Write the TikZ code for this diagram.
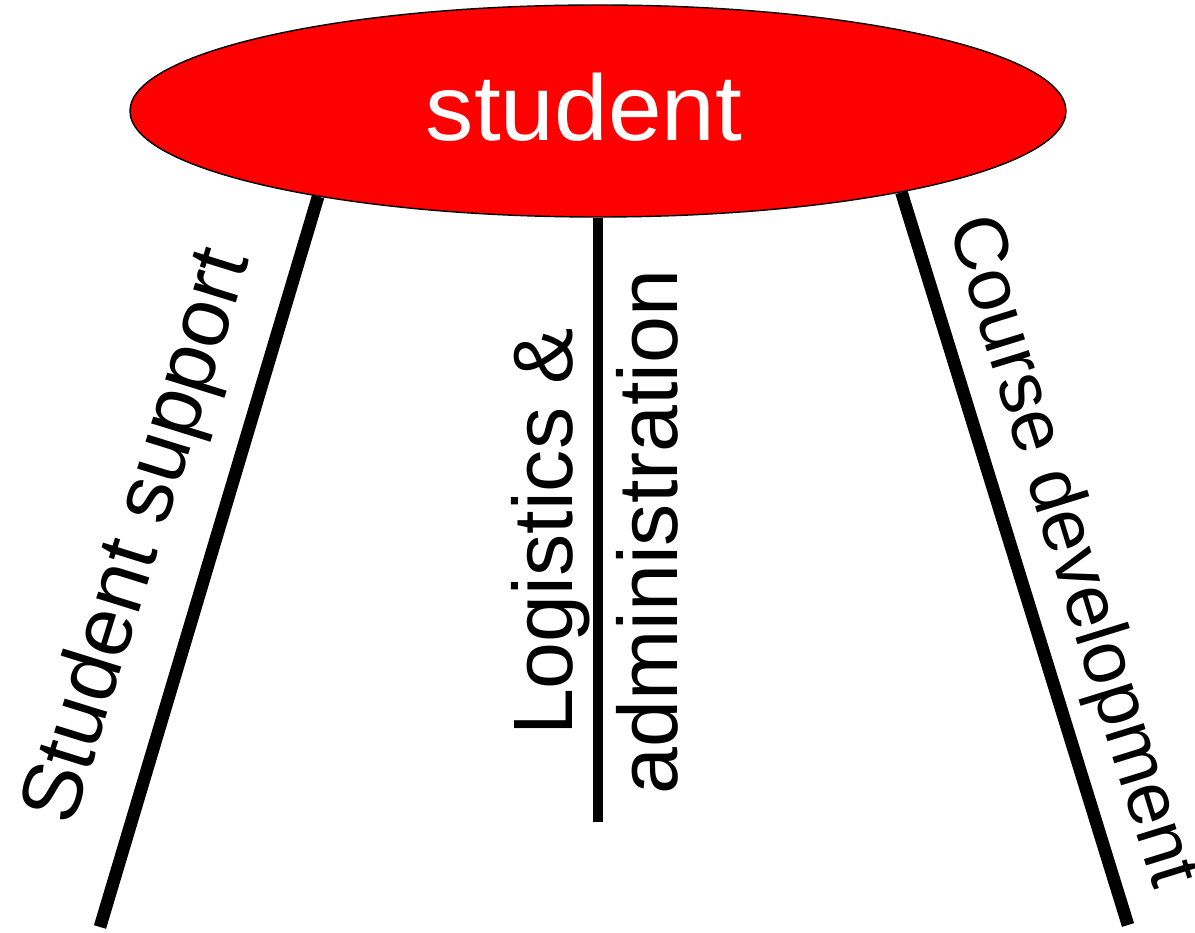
\documentclass[tikz,border=0pt]{standalone}
\usepackage{fontspec}
\setmainfont{Liberation Sans}
\usetikzlibrary{shapes.geometric}

\definecolor{vermelho}{RGB}{255,0,0}

\tikzset{
  perna/.style={line width=7.2pt},
  rotulo/.style={inner sep=0pt, font=\fontsize{48}{60}\selectfont}
}

\begin{document}
\begin{tikzpicture}
    \useasboundingbox (0,0) rectangle (23.9,18.64);

    % Elipse do aluno
    \node[ellipse, draw, line width=0.8pt, fill=vermelho,
          minimum width=18.72cm, minimum height=4.24cm, inner sep=0pt] (stud) at (11.96,16.42) {};
    \node[text=white, inner sep=0pt, xscale=1.035, font=\fontsize{53}{60}\selectfont]
          (nome) at ([xshift=-0.28cm, yshift=0.08cm]stud.center) {student};

    % Extremidades das pernas
    \coordinate (pe) at (2.0,0.1);
    \coordinate (pm) at (11.96,2.2);
    \coordinate (pd) at (22.56,0.14);

    % Pernas
    \draw[perna] (stud.197) -- (pe);
    \draw[line width=5.6pt] (stud.south) -- (pm);
    \draw[perna] (stud.-15) -- (pd);

    % Rótulos
    \node[rotulo, rotate=72.7] (sup) at (2.8,7.9) {Student support};
    \node[rotulo, rotate=90, align=center] (log) at (11.9,8.0) {Logistics \&\\administration};
    \node[rotulo, rotate=-72.8, font=\fontsize{43}{50}\selectfont] (cur) at (21.4,7.6) {Course development};

\end{tikzpicture}
\end{document}
